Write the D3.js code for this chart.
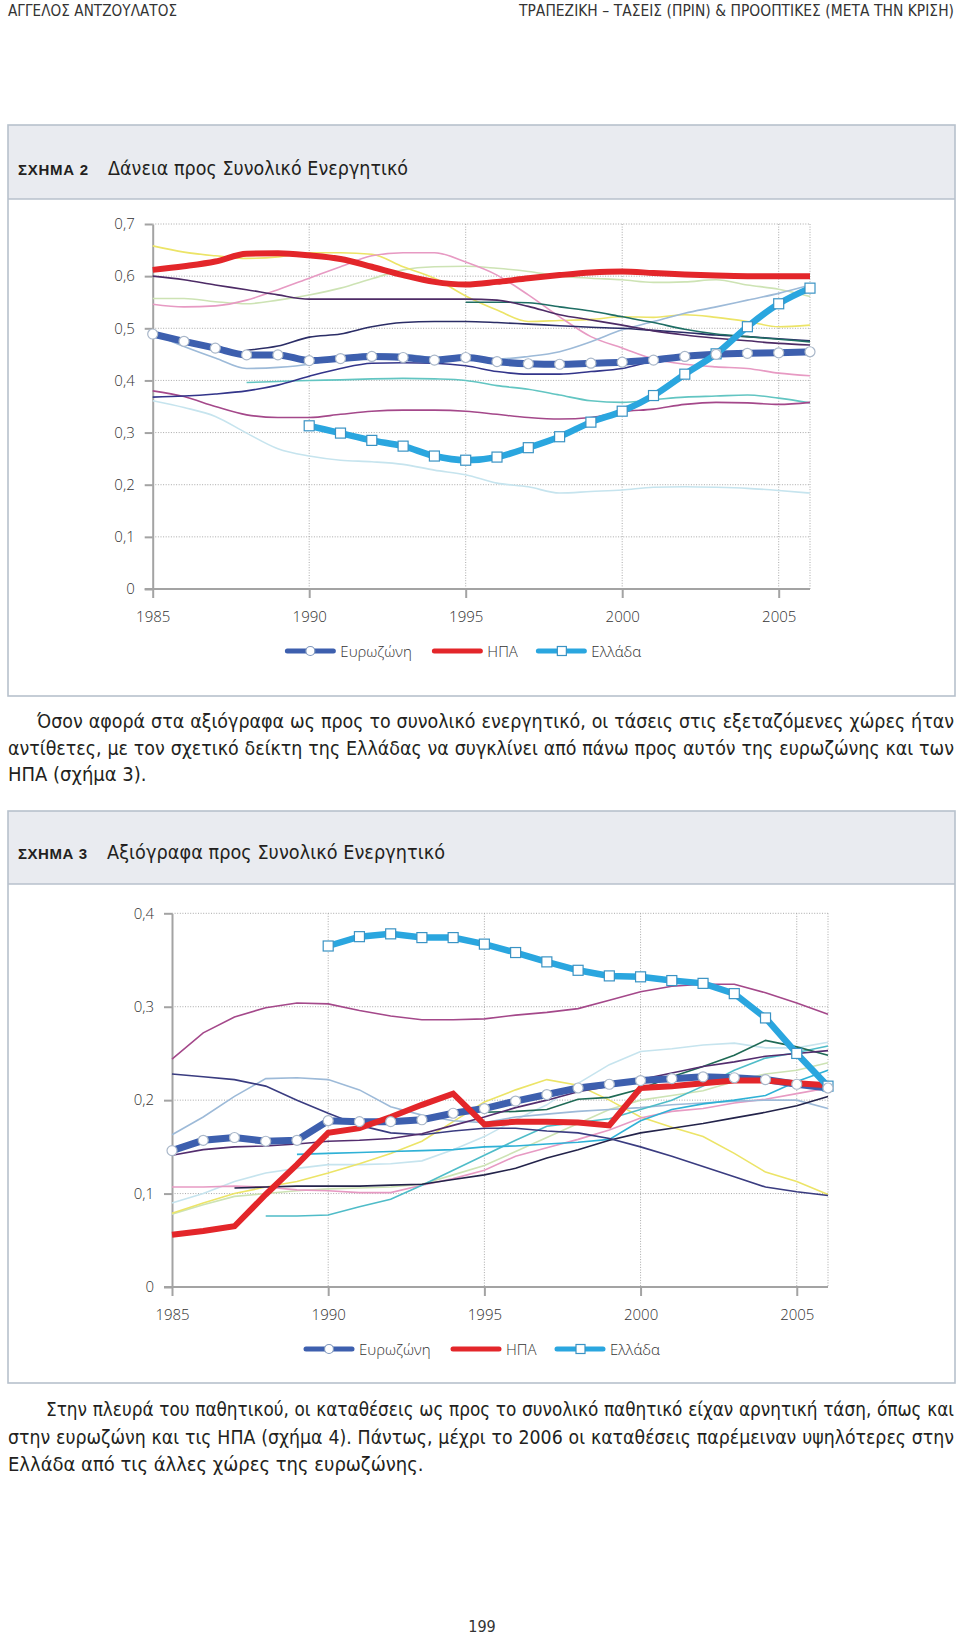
<!DOCTYPE html>
<html><head><meta charset="utf-8">
<script src="https://cdn.jsdelivr.net/npm/d3@7"></script>
<style>
html,body{margin:0;padding:0;background:#fff;}
svg{display:block;}
</style></head>
<body><svg id="page" width="960" height="1636"></svg>
<script>
// ---------------- DATA ----------------
const years = [1985,1986,1987,1988,1989,1990,1991,1992,1993,1994,1995,1996,1997,1998,1999,2000,2001,2002,2003,2004,2005,2006];
const xTickYears = [1985,1990,1995,2000,2005];
const legendNames = ["Ευρωζώνη","ΗΠΑ","Ελλάδα"];

// Chart 1: Loans / total assets
const yTicks1 = [0,0.1,0.2,0.3,0.4,0.5,0.6,0.7];
const yTickLabels1 = ["0","0,1","0,2","0,3","0,4","0,5","0,6","0,7"];
const euro1 = [0.489,0.475,0.462,0.449,0.449,0.438,0.442,0.446,0.444,0.439,0.444,0.436,0.432,0.431,0.433,0.435,0.439,0.446,0.450,0.452,0.453,0.455];
const usa1 = [0.612,0.619,0.628,0.643,0.644,0.640,0.633,0.618,0.602,0.589,0.584,0.589,0.596,0.602,0.607,0.609,0.606,0.603,0.601,0.600,0.600,0.600];
const greece1 = [null,null,null,null,null,0.313,0.299,0.285,0.274,0.255,0.247,0.253,0.271,0.292,0.320,0.341,0.371,0.412,0.451,0.503,0.547,0.577];
const c1Yellow = [0.658,0.646,0.639,0.634,0.637,0.645,0.645,0.642,0.618,0.596,0.562,0.535,0.513,0.515,0.517,0.522,0.521,0.526,0.521,0.513,0.503,0.506];
const c1Pink = [0.546,0.541,0.543,0.554,0.574,0.596,0.618,0.639,0.645,0.645,0.627,0.602,0.564,0.522,0.484,0.462,0.441,0.431,0.426,0.423,0.414,0.409];
const c1PaleGreen = [0.557,0.557,0.551,0.547,0.554,0.564,0.577,0.595,0.612,0.618,0.619,0.615,0.609,0.600,0.596,0.593,0.588,0.589,0.593,0.583,0.575,0.561];
const c1DarkPurple = [0.600,0.593,0.583,0.574,0.564,0.556,0.556,0.556,0.556,0.556,0.556,0.554,0.542,0.526,0.516,0.506,0.495,0.487,0.481,0.476,0.471,0.468];
const c1DarkTeal = [null,null,null,null,null,null,null,null,null,null,0.550,0.550,0.549,0.541,0.533,0.522,0.511,0.498,0.489,0.484,0.479,0.474];
const c1Navy = [null,null,null,0.458,0.466,0.483,0.489,0.503,0.511,0.513,0.513,0.511,0.508,0.505,0.502,0.500,0.496,0.492,0.487,0.484,0.480,0.476];
const c1Steel = [0.490,0.465,0.443,0.423,0.425,0.431,0.444,0.451,0.450,0.444,0.447,0.441,0.446,0.455,0.474,0.497,0.513,0.529,0.541,0.554,0.567,0.583];
const c1Navy2 = [0.368,0.370,0.374,0.380,0.391,0.408,0.423,0.433,0.434,0.433,0.428,0.417,0.412,0.412,0.417,0.423,0.437,0.444,0.449,0.451,0.452,0.453];
const c1Turquoise = [null,null,null,0.396,0.398,0.400,0.401,0.403,0.404,0.403,0.400,0.390,0.383,0.372,0.361,0.358,0.363,0.368,0.370,0.372,0.366,0.357];
const c1Plum = [0.380,0.369,0.350,0.334,0.329,0.329,0.335,0.341,0.343,0.343,0.341,0.335,0.329,0.326,0.329,0.340,0.345,0.354,0.358,0.357,0.354,0.358];
const c1LightBlue = [0.361,0.348,0.331,0.299,0.269,0.255,0.247,0.244,0.239,0.228,0.219,0.203,0.196,0.184,0.187,0.190,0.195,0.196,0.195,0.193,0.189,0.184];

// Chart 2: Securities / total assets
const yTicks2 = [0,0.1,0.2,0.3,0.4];
const yTickLabels2 = ["0","0,1","0,2","0,3","0,4"];
const euro2 = [0.146,0.157,0.160,0.156,0.157,0.178,0.177,0.177,0.179,0.186,0.191,0.199,0.206,0.213,0.217,0.221,0.223,0.225,0.224,0.222,0.217,0.213];
const usa2 = [0.056,0.060,0.065,0.099,0.131,0.165,0.170,0.182,0.195,0.207,0.174,0.177,0.177,0.176,0.173,0.213,0.215,0.218,0.221,0.221,0.218,0.216];
const greece2 = [null,null,null,null,null,0.365,0.375,0.378,0.374,0.374,0.367,0.358,0.348,0.339,0.333,0.332,0.328,0.325,0.314,0.288,0.250,0.215];
const c2Plum = [0.244,0.272,0.289,0.299,0.304,0.303,0.296,0.290,0.286,0.286,0.287,0.291,0.294,0.298,0.307,0.316,0.322,0.324,0.324,0.315,0.304,0.292];
const c2Navy = [0.228,0.225,0.222,0.215,0.200,0.186,0.173,0.165,0.163,0.167,0.170,0.170,0.167,0.165,0.159,0.150,0.140,0.129,0.118,0.107,0.102,0.098];
const c2Steel = [0.163,0.182,0.204,0.223,0.224,0.222,0.211,0.193,0.184,0.178,0.176,0.182,0.185,0.188,0.190,0.192,0.195,0.197,0.199,0.200,0.200,0.191];
const c2DarkPurple = [0.141,0.147,0.150,0.151,0.153,0.156,0.157,0.159,0.164,0.173,0.182,0.192,0.200,0.209,0.215,0.222,0.229,0.236,0.241,0.247,0.250,0.253];
const c2DarkGreen = [null,null,null,null,null,null,null,null,null,null,0.187,0.188,0.190,0.201,0.203,0.212,0.225,0.236,0.248,0.264,0.257,0.248];
const c2Yellow = [0.079,0.090,0.100,0.107,0.113,0.122,0.132,0.143,0.156,0.177,0.198,0.211,0.222,0.216,0.200,0.182,0.171,0.161,0.143,0.123,0.113,0.099];
const c2Cyan = [null,null,null,null,0.142,0.143,0.144,0.145,0.146,0.147,0.150,0.151,0.153,0.155,0.158,0.178,0.190,0.196,0.200,0.205,0.220,0.232];
const c2DarkNavy = [null,null,0.106,0.107,0.108,0.108,0.108,0.109,0.110,0.115,0.120,0.127,0.138,0.147,0.157,0.165,0.170,0.175,0.181,0.187,0.194,0.204];
const c2Pink = [0.107,0.107,0.108,0.107,0.104,0.103,0.101,0.101,0.109,0.116,0.125,0.140,0.149,0.158,0.168,0.181,0.188,0.191,0.197,0.201,0.207,0.213];
const c2VeryLight = [0.090,0.100,0.113,0.122,0.127,0.131,0.131,0.132,0.135,0.147,0.161,0.179,0.195,0.218,0.238,0.252,0.255,0.259,0.261,0.256,0.256,0.262];
const c2TealCyan = [null,null,null,0.076,0.076,0.077,0.086,0.094,0.109,0.125,0.141,0.157,0.172,0.176,0.180,0.190,0.200,0.215,0.232,0.245,0.251,0.258];
const c2PaleGreen = [0.078,0.088,0.097,0.100,0.103,0.105,0.106,0.107,0.110,0.120,0.130,0.145,0.160,0.175,0.190,0.200,0.205,0.210,0.220,0.228,0.232,0.240];

// Text
const headLeft = "ΑΓΓΕΛΟΣ ΑΝΤΖΟΥΛΑΤΟΣ";
const headRight = "ΤΡΑΠΕΖΙΚΗ – ΤΑΣΕΙΣ (ΠΡΙΝ) & ΠΡΟΟΠΤΙΚΕΣ (ΜΕΤΑ ΤΗΝ ΚΡΙΣΗ)";
const para1 = ["Όσον αφορά στα αξιόγραφα ως προς το συνολικό ενεργητικό, οι τάσεις στις εξεταζόμενες χώρες ήταν",
  "αντίθετες, με τον σχετικό δείκτη της Ελλάδας να συγκλίνει από πάνω προς αυτόν της ευρωζώνης και των",
  "ΗΠΑ (σχήμα 3)."];
const para2 = ["Στην πλευρά του παθητικού, οι καταθέσεις ως προς το συνολικό παθητικό είχαν αρνητική τάση, όπως και",
  "στην ευρωζώνη και τις ΗΠΑ (σχήμα 4). Πάντως, μέχρι το 2006 οι καταθέσεις παρέμειναν υψηλότερες στην",
  "Ελλάδα από τις άλλες χώρες της ευρωζώνης."];

// ---------------- STYLE ----------------
const COL_EURO = "#3d5fae", COL_USA = "#e3262a", COL_GR = "#2aa6df";
const chartFont = "'Open Sans','Noto Sans',sans-serif";
const bodyFont = "'Liberation Sans Narrow','Arial Narrow','DejaVu Sans Condensed',sans-serif";

const svg = d3.select("#page");

// Draws a text; if a target width is given the font is shrunk to fit, and
// extra room is taken up by word spacing (justify) or letter spacing.
function textLine(g, str, x, y, opts) {
  let size = opts.size || 20;
  const t = g.append("text").attr("x", x).attr("y", y)
    .style("font-family", opts.font || bodyFont)
    .style("font-size", size + "px")
    .style("font-weight", opts.weight || 400)
    .attr("fill", opts.fill || "#231f20")
    .attr("text-anchor", opts.anchor || "start")
    .text(str);
  if (opts.width) {
    let nat = t.node().getComputedTextLength();
    if (nat > opts.width) {
      size = size * opts.width / nat * 0.995;
      t.style("font-size", size.toFixed(2) + "px");
      nat = t.node().getComputedTextLength();
    }
    const extra = opts.width - nat;
    if (extra > 0.5) {
      if (opts.justify) {
        const sp = (str.match(/ /g) || []).length;
        if (sp > 0) t.style("word-spacing", (extra / sp).toFixed(3) + "px");
      } else if (opts.spread) {
        t.style("letter-spacing", (extra / Math.max(1, str.length - 1)).toFixed(3) + "px");
      }
    }
  }
  return t;
}

// page header
textLine(svg, headLeft, 8, 16, {size: 16, width: 169, spread: true, fill: "#333"});
textLine(svg, headRight, 519, 16, {size: 16, width: 435, spread: true, fill: "#333"});

function paragraph(lines, baselines, indent) {
  lines.forEach((ln, i) => {
    const x = i === 0 ? 8 + indent : 8;
    const last = i === lines.length - 1;
    textLine(svg, ln, x, baselines[i], {size: 20, width: last ? null : 954 - x, justify: !last});
  });
}
paragraph(para1, [728, 755, 781], 29);
paragraph(para2, [1416, 1444, 1471], 38);

textLine(svg, "199", 482, 1632, {size: 16, anchor: "middle", fill: "#333"});

function drawChart(cfg) {
  const g = svg.append("g");
  // panel
  g.append("rect").attr("x", cfg.px0).attr("y", cfg.pTop).attr("width", cfg.px1 - cfg.px0).attr("height", cfg.hBottom - cfg.pTop)
    .attr("fill", "#e9ebf0");
  g.append("rect").attr("x", cfg.px0).attr("y", cfg.pTop).attr("width", cfg.px1 - cfg.px0).attr("height", cfg.pBottom - cfg.pTop)
    .attr("fill", "none").attr("stroke", "#b7c1cc").attr("stroke-width", 1.6);
  g.append("line").attr("x1", cfg.px0).attr("x2", cfg.px1).attr("y1", cfg.hBottom).attr("y2", cfg.hBottom)
    .attr("stroke", "#b7c1cc").attr("stroke-width", 1.6);
  textLine(g, cfg.label, 18, cfg.titleY, {font: "'Liberation Sans',Arial,sans-serif", size: 15, weight: 700, width: cfg.labelW, spread: true, fill: "#231f20"});
  textLine(g, cfg.title, cfg.titleX, cfg.titleY, {size: 23, width: cfg.titleW, spread: true, fill: "#231f20"});

  const x = d3.scaleLinear().domain([years[0], years[years.length - 1]]).range([cfg.x0, cfg.x1]);
  const y = d3.scaleLinear().domain([0, cfg.yMax]).range([cfg.yB, cfg.yT]);

  // grid
  const grid = g.append("g").attr("stroke", "#a9a9a9").attr("stroke-width", 1).attr("stroke-dasharray", "1,1.6");
  cfg.yTicks.filter(v => v > 0).forEach(v => {
    grid.append("line").attr("x1", cfg.x0).attr("x2", cfg.x1).attr("y1", y(v)).attr("y2", y(v));
  });
  xTickYears.slice(1).concat([years[years.length - 1]]).forEach(yr => {
    grid.append("line").attr("x1", x(yr)).attr("x2", x(yr)).attr("y1", cfg.yT).attr("y2", cfg.yB);
  });

  // axes
  const ya = g.append("g").attr("transform", `translate(${cfg.x0},0)`)
    .call(d3.axisLeft(y).tickValues(cfg.yTicks).tickFormat((d, i) => cfg.yLabels[i]).tickSize(8).tickSizeOuter(0).tickPadding(10));
  const xa = g.append("g").attr("transform", `translate(0,${cfg.yB})`)
    .call(d3.axisBottom(x).tickValues(xTickYears).tickFormat(d3.format("d")).tickSize(9).tickSizeOuter(0).tickPadding(13));
  [ya, xa].forEach(a => {
    a.select(".domain").attr("stroke", "#a3a3a3").attr("stroke-width", 2);
    a.selectAll(".tick line").attr("stroke", "#a3a3a3").attr("stroke-width", 2);
    a.selectAll(".tick text").attr("fill", "#333").style("font-family", chartFont).style("font-size", "15px").style("font-weight", 300);
  });
  xa.select(".domain").attr("d", `M${cfg.x0 - 8},0H${cfg.x1}`);

  const lineIdx = (arr) => d3.line().defined(d => d.v != null).x(d => x(d.yr)).y(d => y(d.v)).curve(cfg.curve)(arr.map((v, i) => ({v, yr: years[i]})));

  cfg.thin.forEach(s => {
    g.append("path").attr("d", lineIdx(s.data)).attr("fill", "none").attr("stroke", s.color).attr("stroke-width", 1.6);
  });
  g.append("path").attr("d", lineIdx(cfg.euro)).attr("fill", "none").attr("stroke", COL_EURO).attr("stroke-width", 7);
  g.append("path").attr("d", lineIdx(cfg.usa)).attr("fill", "none").attr("stroke", COL_USA).attr("stroke-width", 6);
  g.append("path").attr("d", lineIdx(cfg.greece)).attr("fill", "none").attr("stroke", COL_GR).attr("stroke-width", 6.5);
  g.selectAll(null).data(cfg.greece.map((v, i) => ({v, yr: years[i]})).filter(d => d.v != null)).join("rect")
    .attr("x", d => x(d.yr) - 5).attr("y", d => y(d.v) - 5).attr("width", 10).attr("height", 10)
    .attr("fill", "#fff").attr("stroke", "#3a93c4").attr("stroke-width", 1.2);
  g.selectAll(null).data(cfg.euro.map((v, i) => ({v, yr: years[i]})).filter(d => d.v != null)).join("circle")
    .attr("cx", d => x(d.yr)).attr("cy", d => y(d.v)).attr("r", 5)
    .attr("fill", "#fff").attr("stroke", "#a9b7c9").attr("stroke-width", 1.2);

  // legend
  const cx = (cfg.x0 + cfg.x1) / 2;
  const offs = [-194, -47, 57];
  const lg = g.append("g");
  offs.forEach((o, i) => {
    const lx = cx + o, ly = cfg.legendY;
    const col = [COL_EURO, COL_USA, COL_GR][i];
    lg.append("line").attr("x1", lx).attr("x2", lx + 46).attr("y1", ly).attr("y2", ly)
      .attr("stroke", col).attr("stroke-width", 5).attr("stroke-linecap", "round");
    if (i === 0) lg.append("circle").attr("cx", lx + 23).attr("cy", ly).attr("r", 4.5).attr("fill", "#fff").attr("stroke", "#7f97bd").attr("stroke-width", 1.2);
    if (i === 2) lg.append("rect").attr("x", lx + 19).attr("y", ly - 4.5).attr("width", 9).attr("height", 9).attr("fill", "#fff").attr("stroke", "#3a93c4").attr("stroke-width", 1.2);
    lg.append("text").attr("x", lx + 53).attr("y", ly + 5.5).attr("fill", "#333")
      .style("font-family", chartFont).style("font-size", "15px").style("font-weight", 300).text(legendNames[i]);
  });
}

drawChart({
  px0: 8, px1: 955, pTop: 125, hBottom: 199, pBottom: 696,
  label: "ΣΧΗΜΑ 2", labelW: 70, title: "Δάνεια προς Συνολικό Ενεργητικό", titleX: 108, titleW: 300, titleY: 175,
  x0: 152.7, x1: 810, yB: 589, yT: 224, yMax: 0.7,
  yTicks: yTicks1, yLabels: yTickLabels1, legendY: 651, curve: d3.curveMonotoneX,
  euro: euro1, usa: usa1, greece: greece1,
  thin: [
    {data: c1LightBlue, color: "#c6e4ee"}, {data: c1PaleGreen, color: "#cde3b4"}, {data: c1Yellow, color: "#ece467"},
    {data: c1Pink, color: "#e79ac3"}, {data: c1Steel, color: "#9dbad8"}, {data: c1Turquoise, color: "#62c5c2"},
    {data: c1Plum, color: "#a4488a"}, {data: c1Navy2, color: "#33358a"}, {data: c1Navy, color: "#2b2d66"},
    {data: c1DarkTeal, color: "#1f6e64"}, {data: c1DarkPurple, color: "#4d2b66"}
  ]
});

drawChart({
  px0: 8, px1: 955, pTop: 811, hBottom: 884, pBottom: 1383,
  label: "ΣΧΗΜΑ 3", labelW: 69, title: "Αξιόγραφα προς Συνολικό Ενεργητικό", titleX: 107, titleW: 338, titleY: 859,
  x0: 172, x1: 828, yB: 1287, yT: 913.3, yMax: 0.4,
  yTicks: yTicks2, yLabels: yTickLabels2, legendY: 1349, curve: d3.curveLinear,
  euro: euro2, usa: usa2, greece: greece2,
  thin: [
    {data: c2VeryLight, color: "#c6e4ee"}, {data: c2PaleGreen, color: "#cde3b4"}, {data: c2Yellow, color: "#ece467"},
    {data: c2Pink, color: "#e79ac3"}, {data: c2Steel, color: "#9dbad8"}, {data: c2TealCyan, color: "#4fbcc8"},
    {data: c2Cyan, color: "#2fb1d6"}, {data: c2DarkNavy, color: "#23234a"}, {data: c2Navy, color: "#3a3c80"},
    {data: c2DarkGreen, color: "#1f6a55"}, {data: c2DarkPurple, color: "#532d6e"}, {data: c2Plum, color: "#a4488a"}
  ]
});
</script></body></html>
